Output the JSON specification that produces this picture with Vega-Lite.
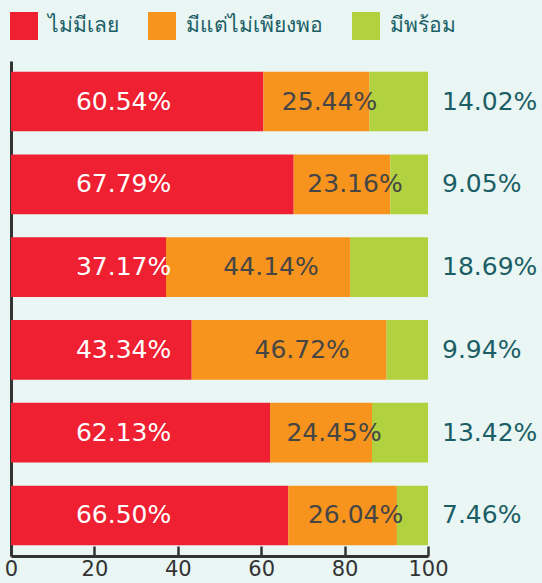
{
  "$schema": "https://vega.github.io/schema/vega-lite/v6.json",
  "autosize": "none",
  "width": 417,
  "height": 495,
  "padding": {"left": 11, "top": 61, "right": 114, "bottom": 27},
  "background": "#eaf6f4",
  "config": {
    "view": {"stroke": null},
    "font": "DejaVu Sans"
  },
  "data": {
    "values": [
      {"row": "1", "category": "ไม่มีเลย", "rank": 1, "value": 60.54},
      {"row": "1", "category": "มีแต่ไม่เพียงพอ", "rank": 2, "value": 25.44},
      {"row": "1", "category": "มีพร้อม", "rank": 3, "value": 14.02},
      {"row": "2", "category": "ไม่มีเลย", "rank": 1, "value": 67.79},
      {"row": "2", "category": "มีแต่ไม่เพียงพอ", "rank": 2, "value": 23.16},
      {"row": "2", "category": "มีพร้อม", "rank": 3, "value": 9.05},
      {"row": "3", "category": "ไม่มีเลย", "rank": 1, "value": 37.17},
      {"row": "3", "category": "มีแต่ไม่เพียงพอ", "rank": 2, "value": 44.14},
      {"row": "3", "category": "มีพร้อม", "rank": 3, "value": 18.69},
      {"row": "4", "category": "ไม่มีเลย", "rank": 1, "value": 43.34},
      {"row": "4", "category": "มีแต่ไม่เพียงพอ", "rank": 2, "value": 46.72},
      {"row": "4", "category": "มีพร้อม", "rank": 3, "value": 9.94},
      {"row": "5", "category": "ไม่มีเลย", "rank": 1, "value": 62.13},
      {"row": "5", "category": "มีแต่ไม่เพียงพอ", "rank": 2, "value": 24.45},
      {"row": "5", "category": "มีพร้อม", "rank": 3, "value": 13.42},
      {"row": "6", "category": "ไม่มีเลย", "rank": 1, "value": 66.50},
      {"row": "6", "category": "มีแต่ไม่เพียงพอ", "rank": 2, "value": 26.04},
      {"row": "6", "category": "มีพร้อม", "rank": 3, "value": 7.46}
    ]
  },
  "transform": [
    {"stack": "value", "groupby": ["row"], "sort": [{"field": "rank"}], "as": ["x0", "x1"]},
    {"calculate": "(datum.x0 + datum.x1) / 2", "as": "xmid"},
    {"calculate": "format(datum.value, '.2f') + '%'", "as": "label"}
  ],
  "encoding": {
    "y": {
      "field": "row",
      "type": "nominal",
      "sort": null,
      "scale": {"paddingInner": 0.28, "paddingOuter": 0.13},
      "axis": {"labels": false, "ticks": false, "title": null, "domainColor": "#333333", "domainWidth": 3}
    }
  },
  "layer": [
    {
      "mark": {"type": "bar"},
      "encoding": {
        "x": {
          "field": "x0",
          "type": "quantitative",
          "scale": {"domain": [0, 100], "nice": false},
          "axis": {
            "title": null,
            "values": [0, 20, 40, 60, 80, 100],
            "grid": false,
            "domainColor": "#333333",
            "domainWidth": 3,
            "tickColor": "#333333",
            "tickWidth": 2.5,
            "tickSize": -10,
            "labelPadding": 12,
            "labelFontSize": 21,
            "labelColor": "#333333",
            "labelFlush": false
          }
        },
        "x2": {"field": "x1"},
        "color": {
          "field": "category",
          "type": "nominal",
          "sort": ["ไม่มีเลย", "มีแต่ไม่เพียงพอ", "มีพร้อม"],
          "scale": {
            "domain": ["ไม่มีเลย", "มีแต่ไม่เพียงพอ", "มีพร้อม"],
            "range": ["#ee2031", "#f7941e", "#b2d13f"]
          },
          "legend": {
            "orient": "none",
            "legendX": -1,
            "legendY": -49,
            "direction": "horizontal",
            "title": null,
            "symbolType": "square",
            "symbolSize": 784,
            "symbolStrokeWidth": 0,
            "symbolOpacity": 1,
            "labelFontSize": 21,
            "labelColor": "#1b5e66",
            "labelOffset": 10,
            "columnPadding": 29,
            "labelLimit": 300
          }
        }
      }
    },
    {
      "transform": [{"filter": "datum.category === 'ไม่มีเลย'"}],
      "mark": {"type": "text", "fontSize": 25, "color": "white", "align": "center", "baseline": "middle"},
      "encoding": {
        "x": {"datum": 27},
        "text": {"field": "label", "type": "nominal"}
      }
    },
    {
      "transform": [{"filter": "datum.category === 'มีแต่ไม่เพียงพอ'"}],
      "mark": {"type": "text", "fontSize": 25, "color": "#454545", "align": "center", "baseline": "middle", "dx": 13},
      "encoding": {
        "x": {"field": "xmid", "type": "quantitative"},
        "text": {"field": "label", "type": "nominal"}
      }
    },
    {
      "transform": [{"filter": "datum.category === 'มีพร้อม'"}],
      "mark": {"type": "text", "fontSize": 25, "color": "#1b5e66", "align": "left", "baseline": "middle", "dx": 14},
      "encoding": {
        "x": {"datum": 100},
        "text": {"field": "label", "type": "nominal"}
      }
    }
  ]
}
